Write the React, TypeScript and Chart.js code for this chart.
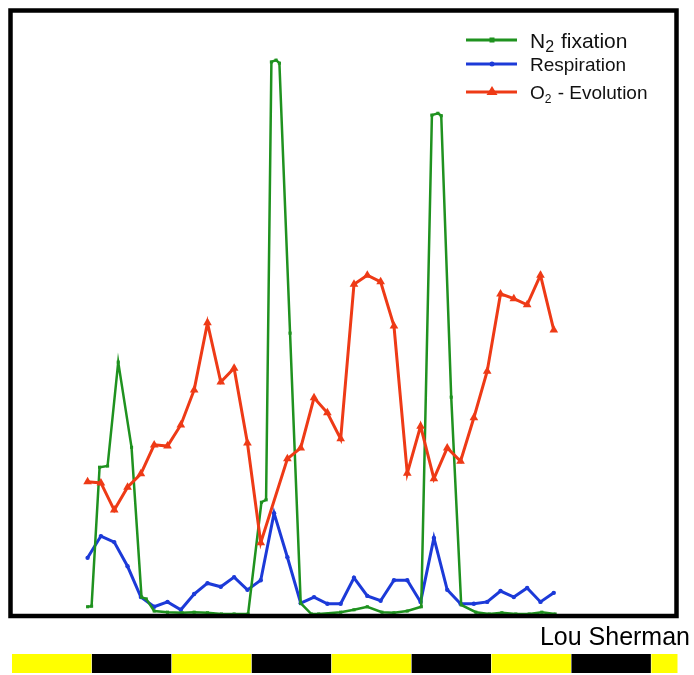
import React, { useEffect, useRef } from 'react';
import { Chart, registerables } from 'chart.js';

Chart.register(...registerables);

// Time (hours) of the sampled points for respiration and O2 evolution
const sampleHours = [
  11.5, 13.5, 15.5, 17.5, 19.5, 21.5, 23.5, 25.5, 27.5, 29.5, 31.5, 33.5,
  35.5, 37.5, 39.5, 41.5, 43.5, 45.5, 47.5, 49.5, 51.5, 53.5, 55.5, 57.5,
  59.5, 61.5, 63.5, 65.5, 67.5, 69.5, 71.5, 73.5, 75.5, 77.5, 79.5, 81.5,
];

const o2Values = [
  21.9, 21.7, 17.2, 21.0, 23.2, 28.0, 27.8, 31.3, 37.1, 48.2, 38.4, 40.7,
  28.3, 11.8, null, 25.7, 27.5, 35.8, 33.3, 29.0, 54.6, 56.1, 55.0, 47.7,
  23.3, 31.1, 22.4, 27.5, 25.3, 32.5, 40.2, 53.0, 52.2, 51.2, 56.1, 47.0,
];

const respirationValues = [
  9.3, 12.9, 11.9, 7.9, 2.8, 1.2, 2.0, 0.7, 3.3, 5.1, 4.5, 6.1,
  4.0, 5.6, 16.7, 9.4, 1.8, 2.8, 1.7, 1.7, 6.0, 3.0, 2.2, 5.6,
  5.6, 2.0, 12.6, 4.0, 1.7, 1.7, 2.0, 3.8, 2.8, 4.3, 2.0, 3.5,
];

// N2 fixation sampled on its own time base
const n2Hours = [
  11.5, 12.1, 13.3, 14.5, 16.1, 18.1, 19.6, 20.3, 21.5, 23.5,
  25.7, 27.5, 29.5, 31.6, 33.5, 35.6, 37.6, 38.3, 39.1, 39.8,
  40.3, 41.9, 43.5, 45.1, 46.2, 49.5, 51.5, 53.5, 55.7, 57.5,
  59.5, 61.6, 63.2, 64.1, 64.6, 66.1, 67.6, 69.8, 71.8, 73.7,
  75.8, 77.8, 79.7, 81.7,
];
const n2Values = [
  1.2, 1.3, 24.3, 24.5, 41.7, 27.6, 2.8, 2.5, 0.5, 0.3,
  0.2, 0.3, 0.2, 0, 0, 0, 18.5, 18.9, 91.4, 91.7,
  91.2, 46.5, 1.8, 0, 0, 0.3, 0.7, 1.2, 0.3, 0.2,
  0.5, 1.2, 82.6, 82.9, 82.5, 35.9, 1.5, 0.3, 0, 0.2,
  0, 0, 0.3, 0,
];

// Light / dark cycle (hours)
const phaseStarts = [0, 12, 24, 36, 48, 60, 72, 84, 96];
const phaseKinds = ['light', 'dark', 'light', 'dark', 'light', 'dark', 'light', 'dark', 'light'];
const cycleEnd = 100;

const seriesLabels = ['N₂ fixation', 'Respiration', 'O₂ - Evolution'];
const creditText = 'Lou Sherman';

const GREEN = '#1f921f';
const BLUE = '#1c3ad8';
const RED = '#ee3a16';
const FONT = '"Liberation Sans", Arial, Helvetica, sans-serif';

function drawLabel(ctx: CanvasRenderingContext2D, text: string, x: number, y: number, size: number, subRatio: number) {
  const parts = text.split('₂');
  let cx = x;
  ctx.textAlign = 'left';
  ctx.textBaseline = 'alphabetic';
  parts.forEach((p, i) => {
    ctx.font = `${size}px ${FONT}`;
    ctx.fillText(p, cx, y);
    cx += ctx.measureText(p).width;
    if (i < parts.length - 1) {
      const sub = Math.round(size * subRatio);
      ctx.font = `${sub}px ${FONT}`;
      ctx.fillText('2', cx, y + size * 0.2);
      cx += ctx.measureText('2').width + 1;
    }
  });
}

const decorPlugin = {
  id: 'decor',
  afterDatasetsDraw(chart: any) {
    const { ctx, chartArea, scales } = chart;
    const xs = scales.x;
    ctx.save();
    // plot frame
    ctx.strokeStyle = '#000';
    ctx.lineWidth = 4.5;
    ctx.strokeRect(
      chartArea.left - 0.5,
      chartArea.top + 0.5,
      chartArea.right - chartArea.left,
      chartArea.bottom - chartArea.top + 1.5
    );

    // light/dark strip
    for (let i = 0; i < phaseStarts.length; i++) {
      const x0 = xs.getPixelForValue(phaseStarts[i]);
      const x1 = xs.getPixelForValue(i + 1 < phaseStarts.length ? phaseStarts[i + 1] : cycleEnd);
      ctx.fillStyle = phaseKinds[i] === 'light' ? '#ffff00' : '#000000';
      ctx.fillRect(x0 + 1, 654, x1 - x0 - 0.5, 19);
    }

    // credit
    ctx.fillStyle = '#000';
    ctx.font = `25px ${FONT}`;
    ctx.textAlign = 'right';
    ctx.textBaseline = 'alphabetic';
    ctx.fillText(creditText, 690, 645);

    // legend
    const rows = [
      { y: 40, base: 48, color: GREEN, kind: 'rect', size: 21, sub: 0.78 },
      { y: 64, base: 71, color: BLUE, kind: 'circle', size: 19, sub: 0.7 },
      { y: 92, base: 99, color: RED, kind: 'triangle', size: 19, sub: 0.65 },
    ];
    rows.forEach((r, i) => {
      ctx.strokeStyle = r.color;
      ctx.fillStyle = r.color;
      ctx.lineWidth = 3;
      ctx.beginPath();
      ctx.moveTo(466, r.y);
      ctx.lineTo(517, r.y);
      ctx.stroke();
      const mx = 492;
      if (r.kind === 'rect') {
        ctx.fillRect(mx - 2.5, r.y - 2.5, 5, 5);
      } else if (r.kind === 'circle') {
        ctx.beginPath();
        ctx.arc(mx, r.y, 2.5, 0, Math.PI * 2);
        ctx.fill();
      } else {
        ctx.beginPath();
        ctx.moveTo(mx, r.y - 6);
        ctx.lineTo(mx + 5.5, r.y + 3);
        ctx.lineTo(mx - 5.5, r.y + 3);
        ctx.closePath();
        ctx.fill();
      }
      ctx.fillStyle = '#111';
      drawLabel(ctx, seriesLabels[i], 530, r.base, r.size, r.sub);
    });
    ctx.restore();
  },
};

export default function App() {
  const ref = useRef<HTMLCanvasElement | null>(null);

  useEffect(() => {
    if (!ref.current) return;
    const chart = new Chart(ref.current, {
      type: 'line',
      data: {
        datasets: [
          {
            label: seriesLabels[0],
            data: n2Hours.map((h, i) => ({ x: h, y: n2Values[i] })),
            borderColor: GREEN,
            backgroundColor: GREEN,
            borderWidth: 2.5,
            pointStyle: 'rect',
            pointRadius: 2.2,
            pointBorderWidth: 0,
            tension: 0,
            clip: false as any,
            order: 1,
          },
          {
            label: seriesLabels[1],
            data: sampleHours.map((h, i) => ({ x: h, y: respirationValues[i] })),
            borderColor: BLUE,
            backgroundColor: BLUE,
            borderWidth: 3,
            pointStyle: 'circle',
            pointRadius: 2.2,
            pointBorderWidth: 0,
            tension: 0,
            clip: false as any,
            order: 2,
          },
          {
            label: seriesLabels[2],
            data: sampleHours.map((h, i) => ({ x: h, y: o2Values[i] })),
            borderColor: RED,
            backgroundColor: RED,
            borderWidth: 3,
            pointStyle: 'triangle',
            pointRadius: 5,
            pointBorderWidth: 0,
            tension: 0,
            spanGaps: true,
            clip: false as any,
            order: 0,
          },
        ],
      },
      options: {
        responsive: false,
        animation: false,
        events: [],
        layout: { padding: { left: 11, right: 17, top: 10, bottom: 61 } },
        plugins: {
          legend: { display: false },
          tooltip: { enabled: false },
        },
        scales: {
          x: { type: 'linear', min: 0, max: 100, display: false },
          y: { type: 'linear', min: 0, max: 100, display: false },
        },
      },
      plugins: [decorPlugin],
    });
    return () => chart.destroy();
  }, []);

  return (
    <div style={{ position: 'absolute', left: 0, top: 0, width: 694, height: 675, background: '#fff' }}>
      <canvas ref={ref} width={694} height={675} style={{ display: 'block', width: 694, height: 675 }} />
    </div>
  );
}
